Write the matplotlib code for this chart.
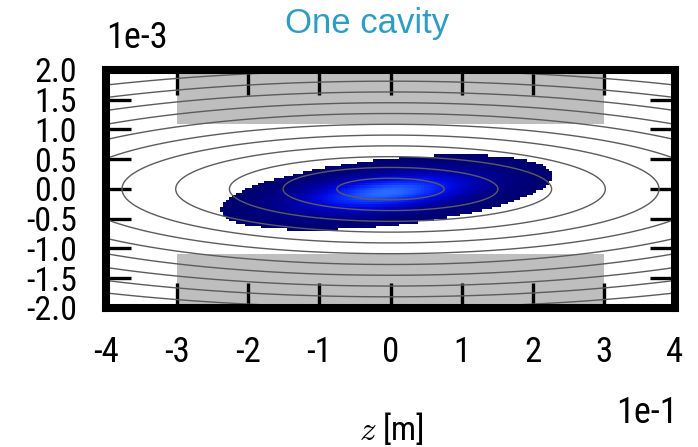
import numpy as np
import matplotlib.pyplot as plt
from matplotlib.colors import LinearSegmentedColormap
from matplotlib.ticker import FuncFormatter

plt.rcParams['axes.unicode_minus'] = False
plt.rcParams['mathtext.fontset'] = 'cm'

narrow = 'Roboto Condensed'

# axis ticks (z in m, delta dimensionless)
z_ticks = [-0.4, -0.3, -0.2, -0.1, 0.0, 0.1, 0.2, 0.3, 0.4]
d_ticks = [-2.0e-3, -1.5e-3, -1.0e-3, -0.5e-3, 0.0, 0.5e-3, 1.0e-3, 1.5e-3, 2.0e-3]

# grey bands (cavity acceptance limits)
band_z = [-0.3, 0.3]
band_d = [1.1e-3, 2.0e-3]

# contour field: ellipse semi-axis in z per level, aspect delta/z
level_step = 0.0755
n_levels = 16
aspect = 2.4e-3

# particle cloud
cloud_z0 = -0.005
cloud_d0 = -0.06e-3
cloud_sz = 0.078
cloud_sd = 0.21e-3
cloud_rho = 0.45
cloud_cut = 3.0

fig = plt.figure(figsize=(6.98, 4.47), dpi=100)
ax = fig.add_axes([106/698, 1 - 308/447, (675-106)/698, (308-70)/447])

# grey bands
for lo, hi in [(band_d[0], band_d[1]), (-band_d[1], -band_d[0])]:
    ax.fill_between(band_z, lo, hi, color='#bebebe', lw=0, zorder=1)

# particle cloud as density image
zb = np.arange(-0.4, 0.4, 0.0045)
db = np.arange(-2e-3, 2e-3, 0.04e-3)
Z, D = np.meshgrid(zb, db)
u = (Z - cloud_z0) / cloud_sz
v = (D - cloud_d0) / cloud_sd
r2 = (u*u - 2*cloud_rho*u*v + v*v) / (1 - cloud_rho**2)
dens = np.exp(-0.5*r2)
dens = np.ma.masked_where(r2 > cloud_cut**2, dens)
cmap = LinearSegmentedColormap.from_list('cl', ['#00006e', '#0000a8', '#0008e0', '#0a30ff', '#2a6cff'])
ax.pcolormesh(Z, D, dens, cmap=cmap, vmin=0, vmax=1, shading='nearest', zorder=2)

# contour lines
zz = np.linspace(-0.4, 0.4, 400)
dd = np.linspace(-2e-3, 2e-3, 400)
ZZ, DD = np.meshgrid(zz, dd)
H = np.sqrt(ZZ**2 + (DD/aspect)**2)
levels = [level_step*(i+1) for i in range(n_levels)]
ax.contour(ZZ, DD, H, levels=levels, colors='#5c5c5c', linewidths=1.0, zorder=3)

ax.set_xlim(-0.4, 0.4)
ax.set_ylim(-2e-3, 2e-3)
ax.set_xticks(z_ticks)
ax.set_yticks(d_ticks)
ax.xaxis.set_major_formatter(FuncFormatter(lambda x, p: '%d' % round(x*10)))
ax.yaxis.set_major_formatter(FuncFormatter(lambda y, p: '%.1f' % (y*1e3)))
ax.tick_params(axis='both', direction='in', length=18, width=2.4, top=True, right=True, zorder=5)
ax.tick_params(axis='x', pad=20, labelsize=25)
ax.tick_params(axis='y', pad=21, labelsize=24.5)
for lab in ax.get_xticklabels() + ax.get_yticklabels():
    lab.set_family(narrow)
for s in ax.spines.values():
    s.set_linewidth(5.8)
    s.set_zorder(6)

fig.text(106/698, 1 - 48/447, '1e-3', family=narrow, fontsize=26, ha='left', va='baseline')
fig.text(678/698, 1 - 423/447, '1e-1', family=narrow, fontsize=26, ha='right', va='baseline')
fig.text(391/698, 1 - 440/447, r'$z$ [m]', family=narrow, fontsize=24, ha='center', va='baseline')
fig.text(367/698, 1 - 33/447, 'One cavity', family='Liberation Sans', fontsize=25,
         color='#2f9dc3', ha='center', va='baseline')

fig.savefig('out.png', dpi=100)
